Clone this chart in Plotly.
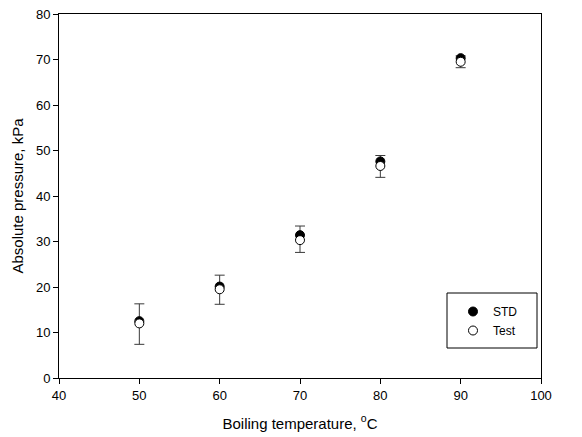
import plotly.graph_objects as go

temps = [50, 60, 70, 80, 90]
std_vals = [12.5, 20.1, 31.4, 47.6, 70.3]
test_vals = [12.0, 19.5, 30.3, 46.6, 69.5]
err_plus = [4.3, 3.1, 3.1, 2.3, 1.3]
err_minus = [4.6, 3.3, 2.7, 2.5, 1.3]
x_ticks = [40, 50, 60, 70, 80, 90, 100]
y_ticks = [0, 10, 20, 30, 40, 50, 60, 70, 80]

FONT = "Liberation Sans, Arial, sans-serif"

fig = go.Figure()
fig.add_trace(go.Scatter(
    x=temps, y=test_vals, mode="markers", showlegend=False, hoverinfo="skip",
    marker=dict(size=1, color="rgba(0,0,0,0)"),
    error_y=dict(type="data", symmetric=False, array=err_plus, arrayminus=err_minus,
                 color="#3a3a3a", thickness=1, width=5),
))
fig.add_trace(go.Scatter(
    x=temps, y=std_vals, mode="markers", name="STD",
    marker=dict(symbol="circle", size=9, color="black", line=dict(color="black", width=1)),
))
fig.add_trace(go.Scatter(
    x=temps, y=test_vals, mode="markers", name="Test",
    marker=dict(symbol="circle", size=9, color="white", line=dict(color="black", width=1)),
))

fig.update_layout(
    width=582, height=437,
    margin=dict(l=59, r=41, t=14, b=59),
    paper_bgcolor="white", plot_bgcolor="white",
    font=dict(family=FONT, size=13, color="black"),
    xaxis=dict(
        range=[40, 100], tickvals=x_ticks, ticks="outside", ticklen=5, tickcolor="black",
        showline=True, linecolor="black", linewidth=1, mirror=True, showgrid=False,
        zeroline=False, tickfont=dict(size=13), automargin=False,
        title=dict(text="Boiling temperature, <sup>o</sup>C", font=dict(size=15), standoff=16),
    ),
    yaxis=dict(
        range=[0, 80], tickvals=y_ticks, ticks="outside", ticklen=5, tickcolor="black",
        showline=True, linecolor="black", linewidth=1, mirror=True, showgrid=False,
        zeroline=False, tickfont=dict(size=13), automargin=False,
        title=dict(text="Absolute pressure, kPa", font=dict(size=15), standoff=8),
    ),
    legend=dict(
        x=(453 - 59) / 482, y=(378 - 297) / 364, xanchor="left", yanchor="top",
        bgcolor="rgba(0,0,0,0)", borderwidth=0, font=dict(size=12),
        tracegroupgap=0,
    ),
    shapes=[dict(
        type="rect", xref="paper", yref="paper",
        x0=(447 - 59) / 482, x1=(537 - 59) / 482,
        y0=(378 - 348) / 364, y1=(378 - 293) / 364,
        line=dict(color="black", width=1), fillcolor="rgba(0,0,0,0)",
    )],
)

fig.write_html("out.html")
